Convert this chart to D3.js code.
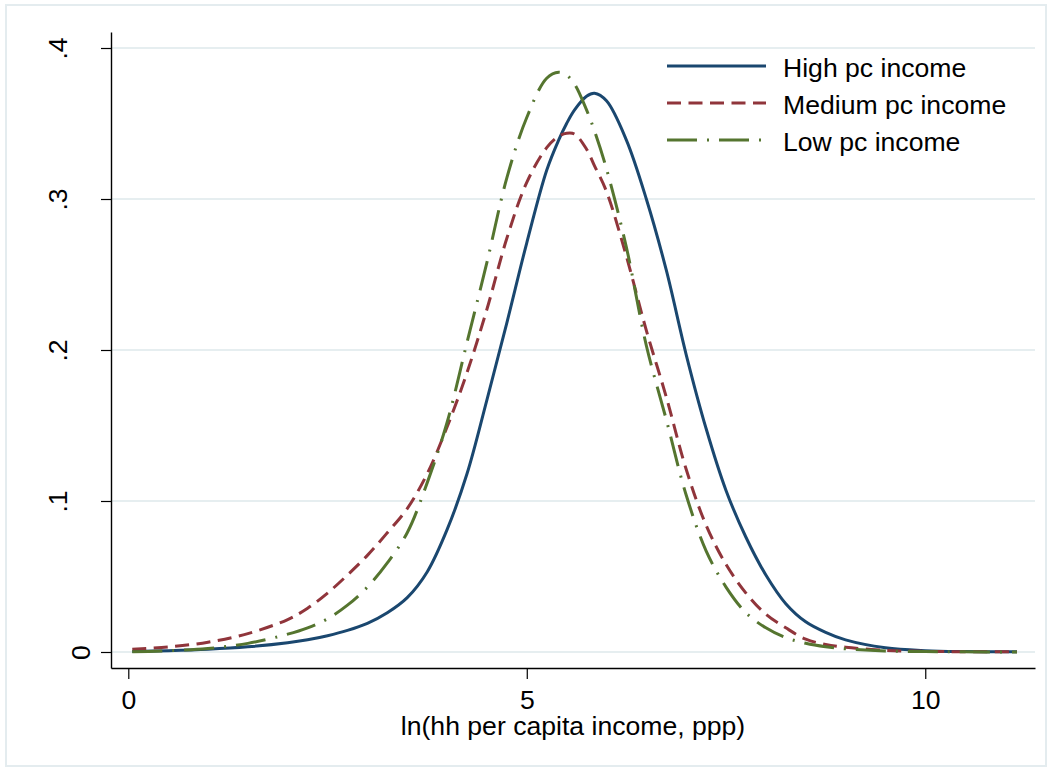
<!DOCTYPE html>
<html>
<head>
<meta charset="utf-8">
<script src="https://cdn.jsdelivr.net/npm/d3@7"></script>
<style>
  html, body { margin: 0; padding: 0; background: #ffffff; }
  svg { display: block; font-family: "Liberation Sans", Arial, sans-serif; }
</style>
</head>
<body>
<svg id="chart" width="1052" height="771"></svg>
<script>
// ---- data ----
const incomeGrid = [0.05, 0.5, 1, 1.5, 2, 2.25, 2.5, 2.75, 3, 3.25, 3.5, 3.75, 4, 4.25, 4.5, 4.75, 5, 5.25, 5.4, 5.5, 5.6, 5.75, 5.85, 6, 6.25, 6.5, 6.75, 7, 7.25, 7.5, 7.75, 8, 8.25, 8.5, 8.75, 9, 9.5, 10, 10.5, 11.15];
const highDensity = [0.0004, 0.0009, 0.0018, 0.0034, 0.0061, 0.0081, 0.0108, 0.0143, 0.019, 0.026, 0.036, 0.053, 0.081, 0.118, 0.167, 0.218, 0.271, 0.319, 0.339, 0.350, 0.359, 0.368, 0.370, 0.365, 0.339, 0.300, 0.253, 0.197, 0.148, 0.107, 0.076, 0.051, 0.032, 0.020, 0.013, 0.008, 0.0028, 0.0009, 0.0003, 0.0001];
const mediumDensity = [0.0018, 0.0033, 0.0065, 0.0122, 0.0215, 0.029, 0.039, 0.051, 0.064, 0.079, 0.095, 0.118, 0.149, 0.185, 0.227, 0.274, 0.311, 0.334, 0.3415, 0.3435, 0.343, 0.333, 0.322, 0.305, 0.262, 0.213, 0.169, 0.121, 0.084, 0.058, 0.039, 0.025, 0.016, 0.0085, 0.005, 0.0032, 0.0011, 0.0004, 0.0002, 0.0001];
const lowDensity = [0.0002, 0.0008, 0.0023, 0.0057, 0.0118, 0.016, 0.022, 0.031, 0.043, 0.059, 0.079, 0.112, 0.152, 0.205, 0.258, 0.314, 0.354, 0.380, 0.384, 0.382, 0.376, 0.359, 0.345, 0.320, 0.268, 0.203, 0.154, 0.104, 0.067, 0.043, 0.026, 0.016, 0.0095, 0.0058, 0.0035, 0.0021, 0.0007, 0.0003, 0.0001, 0.0];
const seriesNames = ["High pc income", "Medium pc income", "Low pc income"];
const xTicks = [0, 5, 10];
const yTicks = [0, 0.1, 0.2, 0.3, 0.4];
const yTickLabels = ["0", ".1", ".2", ".3", ".4"];
const xTitle = "ln(hh per capita income, ppp)";

// ---- styles ----
const colors = ["#1a476f", "#90353b", "#55752f"];
const dashes = [null, "14,7.5", "30,10,2,10"];
const fontSize = 26.6;

const svg = d3.select("#chart");

// outer frame
svg.append("rect").attr("x", 6).attr("y", 5).attr("width", 1040).attr("height", 761)
  .attr("fill", "none").attr("stroke", "#e4ecef").attr("stroke-width", 2);

const x = d3.scaleLinear().domain([-0.217, 11.377]).range([111, 1035]);
const y = d3.scaleLinear().domain([-0.0106, 0.4106]).range([668, 32]);

// gridlines
svg.append("g").selectAll("line").data(yTicks).join("line")
  .attr("x1", x.range()[0]).attr("x2", x.range()[1])
  .attr("y1", d => y(d)).attr("y2", d => y(d))
  .attr("stroke", "#e6eef0").attr("stroke-width", 2);

// y axis
const yAxis = svg.append("g").attr("transform", `translate(${x.range()[0]},0)`)
  .call(d3.axisLeft(y).tickValues(yTicks).tickSize(10).tickSizeOuter(0)
    .tickFormat((d, i) => yTickLabels[i]));
yAxis.select(".domain").attr("stroke", "#000").attr("stroke-width", 1.4);
yAxis.selectAll(".tick line").attr("stroke", "#000").attr("stroke-width", 1.2);
yAxis.selectAll(".tick text")
  .attr("font-size", fontSize).attr("font-family", "Liberation Sans, Arial, sans-serif")
  .attr("fill", "#000")
  .attr("text-anchor", "middle")
  .attr("x", null).attr("dy", null)
  .attr("transform", (d, i) => `translate(${-21 - (yTickLabels[i].length - 1) * 23},0) rotate(-90)`)
  .attr("y", 0);

// x axis
const xAxis = svg.append("g").attr("transform", `translate(0,${y.range()[0]})`)
  .call(d3.axisBottom(x).tickValues(xTicks).tickSize(11).tickSizeOuter(0).tickFormat(d3.format("d")));
xAxis.select(".domain").attr("stroke", "#000").attr("stroke-width", 1.4);
xAxis.selectAll(".tick line").attr("stroke", "#000").attr("stroke-width", 1.2);
xAxis.selectAll(".tick text")
  .attr("font-size", fontSize).attr("font-family", "Liberation Sans, Arial, sans-serif")
  .attr("fill", "#000").attr("y", 41).attr("dy", null);

// x title
svg.append("text").attr("x", (x.range()[0] + x.range()[1]) / 2).attr("y", 735)
  .attr("text-anchor", "middle").attr("font-size", fontSize).attr("fill", "#000")
  .text(xTitle);

// curves
const seriesData = [highDensity, mediumDensity, lowDensity];
const line = d3.line().x(d => x(d[0])).y(d => y(Math.max(0, d[1]))).curve(d3.curveCatmullRom.alpha(0.5));
seriesData.forEach((vals, s) => {
  const pts = incomeGrid.map((g, i) => [g, vals[i]]);
  svg.append("path").datum(pts)
    .attr("d", line)
    .attr("fill", "none")
    .attr("stroke", colors[s])
    .attr("stroke-width", 3)
    .attr("stroke-dasharray", dashes[s])
    .attr("stroke-linejoin", "round");
});

// legend
const legend = svg.append("g");
seriesNames.forEach((name, i) => {
  const ly = 66 + i * 37;
  legend.append("line").attr("x1", 667).attr("x2", 766).attr("y1", ly).attr("y2", ly)
    .attr("stroke", colors[i]).attr("stroke-width", 3).attr("stroke-dasharray", dashes[i]);
  legend.append("text").attr("x", 783).attr("y", ly + 11)
    .attr("font-size", fontSize).attr("fill", "#000").text(name);
});
</script>
</body>
</html>
